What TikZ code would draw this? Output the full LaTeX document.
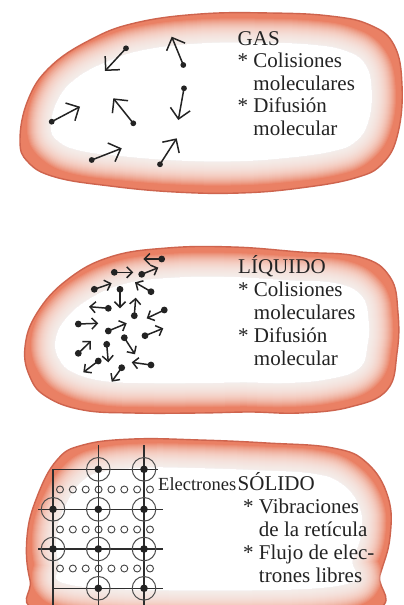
\documentclass[tikz,border=0pt]{standalone}
\usepackage{fontspec}
\setmainfont{Liberation Serif}
\newfontfamily\labelserif{Liberation Serif}
\usetikzlibrary{arrows.meta,calc}

\definecolor{salmon}{RGB}{234,128,100}
\definecolor{rimred}{RGB}{206,100,78}
\definecolor{ink}{RGB}{35,35,35}
\definecolor{latt}{RGB}{45,45,45}

% outlines of the three phase regions (x to the right, y downwards)
\newcommand\gasoutline{plot[smooth cycle,tension=.7] coordinates {(20,140) (28,100) (50,67) (90,40) (135,23) (200,14) (270,13) (330,16) (370,25) (394,45) (402,85) (398,133) (383,163) (355,178) (300,188) (240,193) (175,192) (110,186) (55,177) (28,162)}}
\newcommand\liqoutline{plot[smooth cycle,tension=.7] coordinates {(30,377) (25,347) (37,313) (67,280) (110,257) (167,248) (233,247) (300,252) (360,257) (390,277) (398,313) (397,353) (387,390) (350,407) (300,413) (250,412) (200,413) (133,413) (83,410) (47,397)}}
\newcommand\soloutline{plot[smooth cycle,tension=.7] coordinates {(57,460) (83,445) (133,439) (200,440) (267,443) (333,448) (367,463) (388,497) (390,537) (380,575) (368,612) (200,620) (45,612) (30,580) (27,537) (37,497)}}

\tikzset{
  blobfill/.style={fill=salmon, draw=rimred, line width=1.4pt},
  softedge/.style={white, opacity=.09, line join=round},
  gasmol/.style={draw=ink, line width=1.5pt, -{Straight Barb[length=10pt,width=20pt]}},
  liqmol/.style={draw=ink, line width=1.5pt, -{Straight Barb[length=5.5pt,width=11pt]}},
  lbl/.style={anchor=base west, inner sep=0pt, text=ink, font=\labelserif\fontsize{21}{23}\selectfont},
  atomring/.style={draw=latt!85, line width=1pt},
  electron/.style={draw=latt!90, line width=.9pt},
  latline/.style={draw=latt, line width=1.6pt},
}

% soft white interior of a region: #1 centre, #2 xscale, #3 yscale, #4 outline
\newcommand\whitecore[4]{%
  \begin{scope}[shift={#1}, xscale=#2, yscale=#3, shift={($(0,0)-#1$)}]
    \fill[white] #4;
    \foreach \w in {48,46,...,2} \draw[softedge, line width=\w pt] #4;
  \end{scope}}

\begin{document}
\begin{tikzpicture}[x=1pt, y=-1pt]
\useasboundingbox (0,0) rectangle (404,605);
\fill[white] (0,0) rectangle (404,605);

\begin{scope}
\clip (0,0) rectangle (404,605);
% ---------- regions ----------
\path[blobfill] \gasoutline;
\whitecore{(213,100)}{.84}{.66}{\gasoutline}
\path[blobfill] \liqoutline;
\whitecore{(214,330)}{.84}{.64}{\liqoutline}
\path[blobfill] \soloutline;
\whitecore{(210,528)}{.84}{.68}{\soloutline}
\end{scope}

% ---------- gas molecules ----------
\foreach \i/\dx/\dy/\tx/\ty in {
  1/126/48.3/105/71, 2/183.3/65/171.7/36.7, 3/184/88.3/178.3/120,
  4/51.7/121.7/80/106.7, 5/133.3/123.3/113.3/98.3,
  6/91.7/160/121.7/148.3, 7/160/164.3/176.7/138.3}{
  \coordinate (g\i d) at (\dx,\dy);
  \coordinate (g\i t) at (\tx,\ty);
  \draw[gasmol] (g\i d) -- (g\i t);
  \fill[ink] (g\i d) circle (2.9);
}

% ---------- liquid molecules ----------
\foreach \i/\dx/\dy/\tx/\ty in {
  1/161.7/259/143.3/259, 2/114.3/272.3/133.3/272.3, 3/141.7/274.3/158.3/267.7,
  4/94.3/289.3/111.7/283.3, 5/120/289.3/120/308.3, 6/151/291.7/135/282.3,
  7/108.3/308.3/89/306.7, 8/134.3/315.7/135.7/297.7, 9/164.3/310/146.7/318.3,
  10/78.3/324/98.3/323.3, 11/108.3/331/126.7/323.3, 12/145/335.7/163.3/328.3,
  13/124.3/337.7/135/354.3, 14/78.3/353.3/91/341, 15/106.7/344.3/108.3/362.3,
  16/98.3/361/83.3/372.3, 17/151/365/131.7/362.3, 18/121.7/367.7/111.7/381.7}{
  \coordinate (l\i d) at (\dx,\dy);
  \coordinate (l\i t) at (\tx,\ty);
  \draw[liqmol] (l\i d) -- (l\i t);
  \fill[ink] (l\i d) circle (3.4);
}

% ---------- solid: crystal lattice ----------
\begin{scope}
\clip (0,0) rectangle (404,605);
% free electrons between the rows of ions
\foreach \ey in {489.5,529.5,568.5}
  \foreach \k in {0,...,7}
    \draw[electron] ({60+12.86*\k},\ey) circle (3.5);
% lattice lines
\draw[latline] (53,469.3) -- (158,469.3);
\draw[latline] (38,509.3) -- (163,509.3);
\draw[latline] (38,549) -- (163,549);
\draw[latline] (53,588.3) -- (163,588.3);
\draw[latline] (53,469.3) -- (53,606);
\draw[latline] (98.3,445) -- (98.3,606);
\draw[latline] (144,445) -- (144,606);
% ions
\foreach \ax/\ay in {98.3/469.3, 144/469.3, 53/509.3, 98.3/509.3, 144/509.3,
  53/549, 98.3/549, 144/549, 98.3/588.3, 144/588.3}{
  \draw[atomring] (\ax,\ay) circle (11.8);
  \fill[ink] (\ax,\ay) circle (3.8);
}
\end{scope}

% ---------- labels ----------
\node[lbl] (gas0) at (237.5,45) {GAS};
\node[lbl] (gas1) at (237.5,67.5) {* Colisiones};
\node[lbl] (gas2) at (237.5,90) {\phantom{* }moleculares};
\node[lbl] (gas3) at (237.5,112.5) {* Difusión};
\node[lbl] (gas4) at (237.5,135) {\phantom{* }molecular};

\node[lbl] (liq0) at (238,273) {LÍQUIDO};
\node[lbl] (liq1) at (238,296) {* Colisiones};
\node[lbl] (liq2) at (238,319) {\phantom{* }moleculares};
\node[lbl] (liq3) at (238,342) {* Difusión};
\node[lbl] (liq4) at (238,365) {\phantom{* }molecular};

\node[lbl] (sol0) at (237.5,490) {SÓLIDO};
\node[lbl] (sol1) at (243,513) {* Vibraciones};
\node[lbl] (sol2) at (243,536) {\phantom{* }de la retícula};
\node[lbl] (sol3) at (243,559) {* Flujo de elec-};
\node[lbl] (sol4) at (243,582) {\phantom{* }trones libres};

\node[anchor=base east, inner sep=0pt, text=ink, font=\labelserif\fontsize{18.5}{22}\selectfont] (elec) at (236.5,490) {Electrones};
\end{tikzpicture}
\end{document}
